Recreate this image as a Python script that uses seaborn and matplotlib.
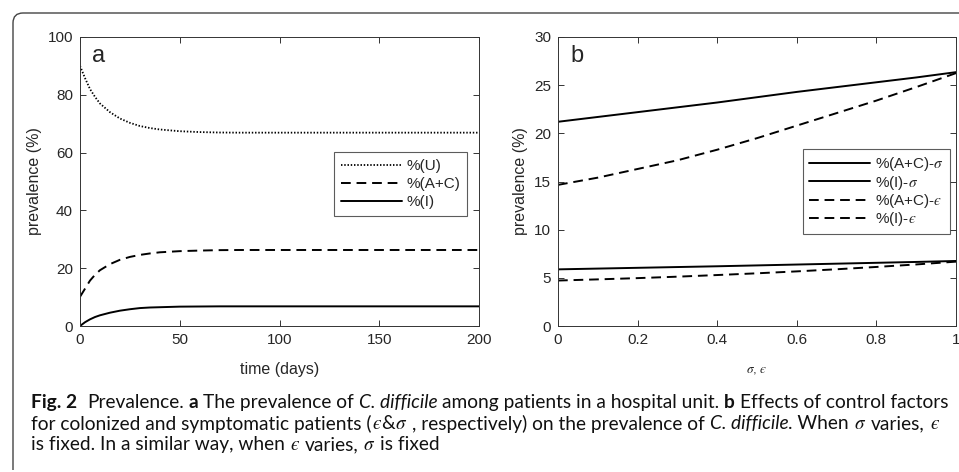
import matplotlib
matplotlib.use("Agg")
import matplotlib.pyplot as plt
import matplotlib.patches as mpatches
from matplotlib.path import Path
from matplotlib.transforms import IdentityTransform
import seaborn as sns

# ---------------- data ----------------
# panel a: prevalence over time
t_days = [0, 2.5, 5, 7.5, 10, 15, 20, 25, 30, 35, 40, 45, 50, 60, 70, 80, 100, 150, 200]
pct_U = [90.0, 85.8, 82.0, 79.3, 77.0, 74.0, 71.8, 70.3, 69.2, 68.5, 68.0, 67.7, 67.4, 67.1,
         66.95, 66.9, 66.9, 66.9, 66.9]
pct_AC = [10.1, 12.9, 15.7, 17.7, 19.3, 21.4, 22.9, 23.9, 24.6, 25.1, 25.5, 25.7, 25.9, 26.1,
          26.25, 26.3, 26.3, 26.3, 26.3]
pct_I = [0.0, 1.3, 2.3, 3.1, 3.7, 4.6, 5.3, 5.8, 6.2, 6.4, 6.5, 6.6, 6.7, 6.75, 6.8, 6.8,
         6.8, 6.8, 6.8]

# panel b: effect of control factors
ctrl = [0.0, 0.1, 0.2, 0.3, 0.4, 0.5, 0.6, 0.7, 0.8, 0.9, 1.0]
AC_sigma = [21.2, 21.7, 22.2, 22.7, 23.2, 23.75, 24.3, 24.8, 25.3, 25.8, 26.35]
I_sigma = [5.88, 5.96, 6.04, 6.12, 6.2, 6.29, 6.38, 6.47, 6.56, 6.65, 6.75]
AC_eps = [14.65, 15.4, 16.3, 17.2, 18.3, 19.5, 20.8, 22.1, 23.4, 24.8, 26.25]
I_eps = [4.72, 4.84, 4.97, 5.12, 5.29, 5.47, 5.67, 5.89, 6.13, 6.39, 6.68]

xticks_a = [0, 50, 100, 150, 200]
yticks_a = [0, 20, 40, 60, 80, 100]
xticks_b = [0, 0.2, 0.4, 0.6, 0.8, 1]
xticklabels_b = ["0", "0.2", "0.4", "0.6", "0.8", "1"]
yticks_b = [0, 5, 10, 15, 20, 25, 30]

EPS = "$\u03f5$"
SIG = r"$\sigma$"
caption_lines = [
    [("Fig. 2", "b"), ("  Prevalence. ", "n"), ("a", "b"), (" The prevalence of ", "n"),
     ("C. difficile", "i"), (" among patients in a hospital unit. ", "n"), ("b", "b"),
     (" Effects of control factors", "n")],
    [("for colonized and symptomatic patients (", "n"), (EPS, "m"), ("&", "n"), (SIG, "m"),
     (" , respectively) on the prevalence of ", "n"), ("C. difficile", "i"), (". When ", "n"),
     (SIG, "m"), (" varies, ", "n"), (EPS, "m")],
    [("is fixed. In a similar way, when ", "n"), (EPS, "m"), (" varies, ", "n"), (SIG, "m"),
     (" is fixed", "n")],
]

# ---------------- style ----------------
sns.set_style("ticks")
plt.rcParams["font.family"] = ["Liberation Sans", "DejaVu Sans"]
plt.rcParams["mathtext.fontset"] = "stix"

AXC = "#333333"
TXC = "#262626"
W, H = 959, 472
fig = plt.figure(figsize=(W / 100, H / 100), dpi=100)

# rounded frame (top-left corner, left and top edges)
r = 10
x0, ytop, ybot = 13, H - 13, H - 470
verts = [(x0, ybot), (x0, ytop - r), (x0, ytop), (x0 + r, ytop), (W + 20, ytop)]
codes = [Path.MOVETO, Path.LINETO, Path.CURVE3, Path.CURVE3, Path.LINETO]
frame = mpatches.PathPatch(Path(verts, codes), transform=IdentityTransform(), fill=False,
                           edgecolor="#444444", linewidth=1.0)
fig.patches.append(frame)

axa = fig.add_axes([80 / W, 1 - 326 / H, 399 / W, 289 / H])
axb = fig.add_axes([558 / W, 1 - 326 / H, 398 / W, 289 / H])

LW = 1.4
dash = (0, (5, 3))
dot = (0, (0.8, 1.0))

sns.lineplot(x=t_days, y=pct_U, ax=axa, color="k", lw=1.3, linestyle=dot, label="%(U)")
sns.lineplot(x=t_days, y=pct_AC, ax=axa, color="k", lw=LW, linestyle=dash, label="%(A+C)")
sns.lineplot(x=t_days, y=pct_I, ax=axa, color="k", lw=LW, linestyle="-", label="%(I)")

sns.lineplot(x=ctrl, y=AC_sigma, ax=axb, color="k", lw=LW, linestyle="-", label="%(A+C)-" + SIG)
sns.lineplot(x=ctrl, y=I_sigma, ax=axb, color="k", lw=LW, linestyle="-", label="%(I)-" + SIG)
sns.lineplot(x=ctrl, y=AC_eps, ax=axb, color="k", lw=LW, linestyle=dash, label="%(A+C)-" + EPS)
sns.lineplot(x=ctrl, y=I_eps, ax=axb, color="k", lw=LW, linestyle=dash, label="%(I)-" + EPS)

for ax in (axa, axb):
    for s in ax.spines.values():
        s.set_visible(True)
        s.set_color(AXC)
        s.set_linewidth(0.7)
    ax.tick_params(direction="in", top=True, right=True, length=4, width=0.7,
                   color=AXC, labelcolor=TXC, labelsize=11, pad=5)
    ax.set_ylabel("prevalence (%)", fontsize=11.5, color=TXC, labelpad=4)

axa.set_xlim(0, 200)
axa.set_ylim(0, 100)
axa.set_xticks(xticks_a)
axa.set_yticks(yticks_a)
axa.set_xlabel("time (days)", fontsize=11.5, color=TXC, labelpad=10.5)
axa.text(0.03, 0.935, "a", transform=axa.transAxes, fontsize=17, va="center", ha="left")

axb.set_xlim(0, 1)
axb.set_ylim(0, 30)
axb.set_xticks(xticks_b)
axb.set_xticklabels(xticklabels_b)
axb.set_yticks(yticks_b)
axb.set_xlabel(SIG + ", " + EPS, fontsize=9.5, color=TXC, labelpad=12)
axb.text(0.03, 0.935, "b", transform=axb.transAxes, fontsize=17, va="center", ha="left")

lega = axa.legend(loc="upper right", bbox_to_anchor=(0.97, 0.602), fontsize=11,
                  frameon=True, fancybox=False, handlelength=4.0, handletextpad=0.3,
                  borderpad=0.45, labelspacing=0.28, borderaxespad=0)
lega.get_frame().set_edgecolor(AXC)
lega.get_frame().set_linewidth(0.8)

legb = axb.legend(loc="upper right", bbox_to_anchor=(0.985, 0.612), fontsize=11,
                  frameon=True, fancybox=False, handlelength=4.0, handletextpad=0.3,
                  borderpad=0.4, labelspacing=0.02, borderaxespad=0)
legb.get_frame().set_edgecolor(AXC)
legb.get_frame().set_linewidth(0.8)

# ---------------- caption ----------------
renderer = fig.canvas.get_renderer()
CAP_FONT = "Lato"
STYLES = {
    "n": dict(family=CAP_FONT),
    "b": dict(family=CAP_FONT, weight="bold"),
    "i": dict(family=CAP_FONT, style="italic"),
    "m": dict(family=CAP_FONT, math_fontfamily="stix", weight="bold"),
}


def text_width(s, size, style):
    t = fig.text(0, 0, s, fontsize=size, **STYLES[style])
    w = t.get_window_extent(renderer).width
    t.remove()
    return w


def draw_line(runs, x_start, y_center, size, draw=True):
    space = text_width("a a", size, "n") - text_width("aa", size, "n")
    x = x_start
    for s, st in runs:
        core = s.strip(" ")
        lead = len(s) - len(s.lstrip(" "))
        trail = len(s) - len(s.rstrip(" "))
        x += lead * space
        if core:
            if draw:
                fig.text(x / W, 1 - y_center / H, core, fontsize=size, va="center_baseline",
                         ha="left", color="#111111", **STYLES[st])
            x += text_width(core, size, st)
        x += trail * space
    return x - x_start


base = 11.0
CAP_X = 31
w1 = draw_line(caption_lines[0], CAP_X, 401, base, draw=False)
cap_size = base * (920 / w1)
for runs, yc in zip(caption_lines, [401, 422, 443]):
    draw_line(runs, CAP_X, yc, cap_size)

fig.savefig("out.png", dpi=100)
